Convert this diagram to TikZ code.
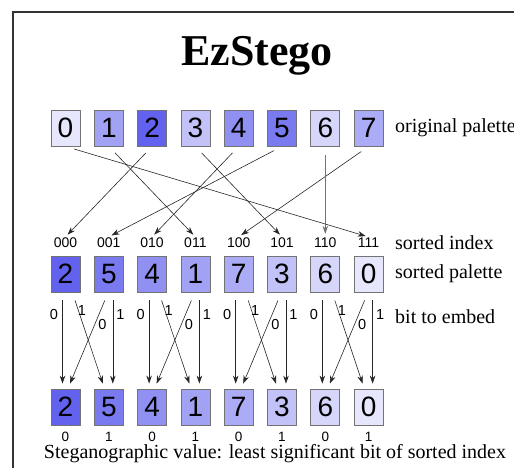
\documentclass[tikz,border=0pt]{standalone}
\usepackage{fontspec}
\setmainfont{Liberation Serif}
\newfontfamily\digitfont{Liberation Sans}
\usetikzlibrary{arrows.meta}

% palette colours, indexed by original palette entry
\definecolor{pal0}{HTML}{E6E6FC}
\definecolor{pal1}{HTML}{A2A2F4}
\definecolor{pal2}{HTML}{6262EE}
\definecolor{pal3}{HTML}{C2C2F8}
\definecolor{pal4}{HTML}{9090F2}
\definecolor{pal5}{HTML}{7A7AF0}
\definecolor{pal6}{HTML}{D6D6FA}
\definecolor{pal7}{HTML}{ACACF6}

\begin{document}
\begin{tikzpicture}[x=1pt,y=-1pt,
  palbox/.style={draw=black!55, line width=0.8pt, minimum width=29pt,
    minimum height=36pt, inner sep=0pt,
    font=\digitfont\fontsize{28}{28}\selectfont},
  idxlabel/.style={inner sep=1pt, font=\digitfont\fontsize{14}{14}\selectfont},
  bitlabel/.style={inner sep=0pt, font=\digitfont\fontsize{14.5}{14.5}\selectfont},
  lsblabel/.style={inner sep=0pt, font=\digitfont\fontsize{13.5}{13.5}\selectfont},
  sidelabel/.style={anchor=west, inner sep=0pt, font=\fontsize{20}{20}\selectfont},
  maparrow/.style={black!85, line width=0.6pt, -{Stealth[length=8pt,width=5.5pt]}},
  embed/.style={black!85, line width=0.6pt, -{Stealth[length=8pt,width=5.5pt]}}]
\useasboundingbox (0,0) rectangle (514,468);

% frame
\draw[line width=2pt, black!80] (13,468) -- (13,12) -- (514,12);

% title
\node (title) at (257,56) {\fontsize{44}{44}\selectfont\bfseries EzStego};

% original palette
\foreach \i in {0,...,7} {
  \pgfmathsetmacro\cx{65.5+43.3*\i}
  \node[palbox, fill=pal\i] (o\i) at (\cx,128) {\i};
}
\node[sidelabel] (lorig) at (395,128) {original palette};

% sorted palette with its index, and the palette after embedding
\foreach \v/\b [count=\j from 0] in {2/000,5/001,4/010,1/011,7/100,3/101,6/110,0/111} {
  \pgfmathsetmacro\cx{65.5+43.3*\j}
  \node[idxlabel] (idx\j) at (\cx,243) {\b};
  \node[palbox, fill=pal\v] (s\j) at (\cx,274) {\v};
  \node[palbox, fill=pal\v] (b\j) at (\cx,407) {\v};
  \pgfmathtruncatemacro\lsb{mod(\j,2)}
  \node[lsblabel] (lsb\j) at (\cx,437) {\lsb};
}
\node[sidelabel] (lidx) at (395,243) {sorted index};
\node[sidelabel] (lsorted) at (395,274) {sorted palette};
\node[sidelabel] (lbit) at (395,317) {bit to embed};

% mapping from original entry to sorted position
\foreach \i/\p in {0/7,1/3,2/0,3/5,4/2,5/1,7/4} {
  \draw[maparrow, shorten <=9pt, shorten >=3pt] (o\i.south) -- (idx\p.north);
}
\draw[maparrow, black!55, shorten <=9pt, shorten >=3pt] (o6.south) -- (idx6.north);

% embedding one bit inside each pair
\foreach \k in {0,...,3} {
  \pgfmathtruncatemacro\l{2*\k}
  \pgfmathtruncatemacro\r{2*\k+1}
  \draw[embed] ([xshift=-3pt,yshift=-8pt]s\l.south) -- ([xshift=-3pt,yshift=5pt]b\l.north);
  \draw[embed] ([xshift=4pt,yshift=-8pt]s\r.south) -- ([xshift=4pt,yshift=5pt]b\r.north);
  \draw[embed] ([xshift=9.5pt,yshift=-8pt]s\l.south) -- ([xshift=-6pt,yshift=5pt]b\r.north);
  \draw[embed] ([xshift=-4pt,yshift=-8pt]s\r.south) -- ([xshift=4.5pt,yshift=5pt]b\l.north);
  \pgfmathsetmacro\cl{65.5+43.3*\l}
  \pgfmathsetmacro\cr{65.5+43.3*\r}
  \node[bitlabel] (za\k) at (\cl-11.5,315) {0};
  \node[bitlabel] (oa\k) at (\cl+16.5,311) {1};
  \node[bitlabel] (zb\k) at (\cr-6.5,325) {0};
  \node[bitlabel] (ob\k) at (\cr+11.5,315) {1};
}

% caption
\node[inner sep=0pt, font=\fontsize{20}{20}\selectfont] (caption) at (275,454)
  {Steganographic value: least significant bit of sorted index};
\end{tikzpicture}
\end{document}
